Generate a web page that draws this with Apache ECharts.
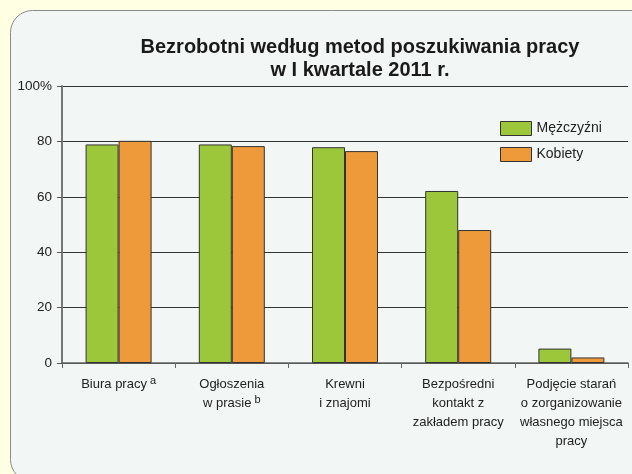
<!DOCTYPE html>
<html>
<head>
<meta charset="utf-8">
<script src="https://cdn.jsdelivr.net/npm/echarts@6/dist/echarts.min.js"></script>
<style>
  html, body { margin: 0; padding: 0; background: #FFFFE3; }
  #chart { width: 632px; height: 474px; }
</style>
</head>
<body>
<div id="chart"></div>
<script>
// dane z wykresu
var categories = [
  'Biura pracy{sup|a}',
  'Ogłoszenia\nw prasie{sup|b}',
  'Krewni\ni znajomi',
  'Bezpośredni\nkontakt z\nzakładem pracy',
  'Podjęcie starań\no zorganizowanie\nwłasnego miejsca\npracy'
]
var seriesNames = ['Mężczyźni', 'Kobiety']
var men = [78.9, 78.9, 77.9, 62.1, 5.2]
var women = [80.2, 78.3, 76.5, 48.0, 2.0]
var yTicks = [0, 20, 40, 60, 80, 100]

var font = '"Liberation Sans", Arial, sans-serif'
var myColor = ['#9DC73A', '#EE9A3A']

var option = {
  backgroundColor: '#FFFFE3',
  animation: false,
  title: {
    text: 'Bezrobotni według metod poszukiwania pracy\nw I kwartale 2011 r.',
    left: 355,
    top: 31,
    textAlign: 'center',
    textStyle: {
      fontFamily: font,
      fontWeight: 'bold',
      fontSize: 20,
      lineHeight: 23,
      color: '#1a1a1a'
    }
  },
  graphic: [{
    type: 'rect',
    z: -10,
    shape: { x: 10.5, y: 10.5, width: 660, height: 471, r: 22 },
    style: { fill: '#F2F7F5', stroke: '#8a8a8a', lineWidth: 1 }
  }],
  legend: {
    orient: 'vertical',
    left: 495,
    top: 116,
    itemWidth: 31,
    itemHeight: 14,
    itemGap: 11,
    itemStyle: { borderColor: '#333', borderWidth: 1 },
    icon: 'rect',
    textStyle: { fontFamily: font, fontSize: 14, color: '#222' },
    data: seriesNames
  },
  grid: {
    left: 62,
    right: 4,
    top: 86,
    bottom: 111
  },
  xAxis: {
    type: 'category',
    data: categories,
    axisLine: { lineStyle: { color: '#666', width: 1.5 } },
    axisTick: { show: true, interval: 0, length: 5, lineStyle: { color: '#666' } },
    axisLabel: {
      interval: 0,
      margin: 12,
      fontFamily: font,
      fontSize: 13,
      lineHeight: 19,
      color: '#222',
      rich: {
        sup: { fontFamily: font, fontSize: 11, verticalAlign: 'top', lineHeight: 19, color: '#222', padding: [0, 0, 4, 3] }
      }
    }
  },
  yAxis: {
    type: 'value',
    min: yTicks[0],
    max: yTicks[yTicks.length - 1],
    interval: 20,
    axisLine: { show: true, lineStyle: { color: '#777', width: 2 } },
    axisTick: { show: true, length: 5, lineStyle: { color: '#555' } },
    splitLine: { show: true, lineStyle: { color: '#333', width: 1 } },
    axisLabel: {
      margin: 10,
      fontFamily: font,
      fontSize: 13.5,
      color: '#222',
      formatter: function (v) { return v === 100 ? '100%' : String(v) }
    }
  },
  series: [{
    name: seriesNames[0],
    type: 'bar',
    data: men,
    barWidth: 33,
    barGap: '0%',
    itemStyle: { color: myColor[0], borderColor: '#333', borderWidth: 1 }
  }, {
    name: seriesNames[1],
    type: 'bar',
    data: women,
    barWidth: 33,
    barGap: '0%',
    itemStyle: { color: myColor[1], borderColor: '#333', borderWidth: 1 }
  }]
}

var myChart = echarts.init(document.getElementById('chart'))
myChart.setOption(option, true)
window.addEventListener('resize', function () {
  myChart.resize()
})
</script>
</body>
</html>
